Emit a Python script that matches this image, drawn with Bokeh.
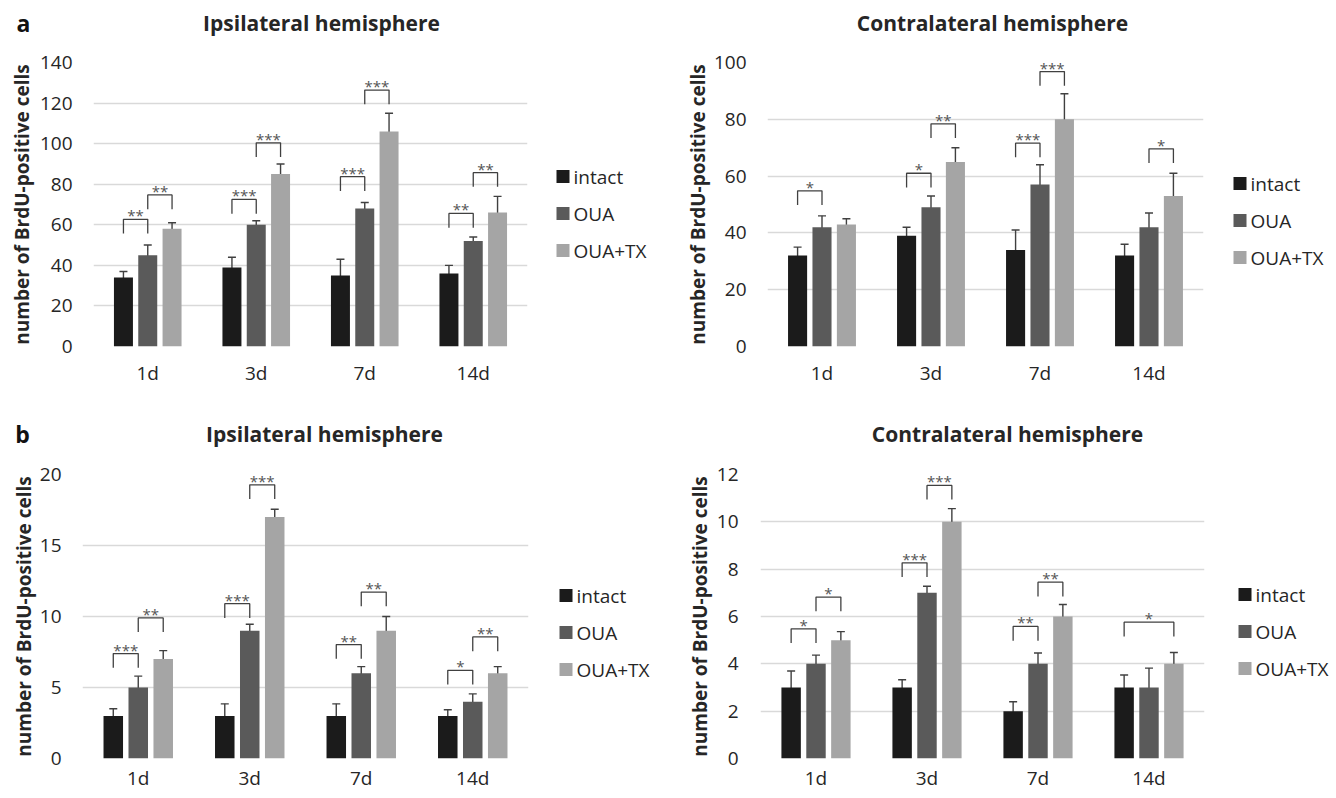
from bokeh.plotting import figure
from bokeh.models import (FactorRange, Range1d, SingleIntervalTicker, Whisker,
                          ColumnDataSource, Label, TeeHead)
from bokeh.transform import dodge
from bokeh.layouts import column, row
from bokeh.embed import file_html
from bokeh.resources import INLINE
from bokeh.core.properties import value

# ---------------- data ----------------
days = ["1d", "3d", "7d", "14d"]
groups = ["intact", "OUA", "OUA+TX"]

# (a) Ipsilateral hemisphere
a_ipsi_intact = [34, 39, 35, 36]
a_ipsi_intact_err = [3, 5, 8, 4]
a_ipsi_oua = [45, 60, 68, 52]
a_ipsi_oua_err = [5, 2, 3, 2]
a_ipsi_tx = [58, 85, 106, 66]
a_ipsi_tx_err = [3, 5, 9, 8]
a_ipsi_brackets = [("1d", 0, 1, 62.7, "**"), ("1d", 1, 2, 74.7, "**"),
                   ("3d", 0, 1, 72.5, "***"), ("3d", 1, 2, 100.4, "***"),
                   ("7d", 0, 1, 83.7, "***"), ("7d", 1, 2, 126.4, "***"),
                   ("14d", 0, 1, 65.6, "**"), ("14d", 1, 2, 85.7, "**")]

# (a) Contralateral hemisphere
a_contra_intact = [32, 39, 34, 32]
a_contra_intact_err = [3, 3, 7, 4]
a_contra_oua = [42, 49, 57, 42]
a_contra_oua_err = [4, 4, 7, 5]
a_contra_tx = [43, 65, 80, 53]
a_contra_tx_err = [2, 5, 9, 8]
a_contra_brackets = [("1d", 0, 1, 54.8, "*"),
                     ("3d", 0, 1, 61.0, "*"), ("3d", 1, 2, 78.4, "**"),
                     ("7d", 0, 1, 71.6, "***"), ("7d", 1, 2, 96.8, "***"),
                     ("14d", 1, 2, 69.6, "*")]

# (b) Ipsilateral hemisphere
b_ipsi_intact = [3, 3, 3, 3]
b_ipsi_intact_err = [0.5, 0.85, 0.85, 0.43]
b_ipsi_oua = [5, 9, 6, 4]
b_ipsi_oua_err = [0.8, 0.45, 0.47, 0.55]
b_ipsi_tx = [7, 17, 9, 6]
b_ipsi_tx_err = [0.6, 0.55, 1.0, 0.47]
b_ipsi_brackets = [("1d", 0, 1, 7.39, "***"), ("1d", 1, 2, 9.9, "**"),
                   ("3d", 0, 1, 10.9, "***"), ("3d", 1, 2, 19.27, "***"),
                   ("7d", 0, 1, 8.02, "**"), ("7d", 1, 2, 11.72, "**"),
                   ("14d", 0, 1, 6.21, "*"), ("14d", 1, 2, 8.56, "**")]

# (b) Contralateral hemisphere
b_contra_intact = [3, 3, 2, 3]
b_contra_intact_err = [0.7, 0.33, 0.4, 0.53]
b_contra_oua = [4, 7, 4, 3]
b_contra_oua_err = [0.37, 0.28, 0.46, 0.82]
b_contra_tx = [5, 10, 6, 4]
b_contra_tx_err = [0.36, 0.56, 0.51, 0.48]
b_contra_brackets = [("1d", 0, 1, 5.48, "*"), ("1d", 1, 2, 6.82, "*"),
                     ("3d", 0, 1, 8.27, "***"), ("3d", 1, 2, 11.54, "***"),
                     ("7d", 0, 1, 5.58, "**"), ("7d", 1, 2, 7.45, "**"),
                     ("14d", 0, 2, 5.76, "*")]

titles = ["Ipsilateral hemisphere", "Contralateral hemisphere"]
letters = ["a", "b"]
y_label = "number of BrdU-positive cells"

# ---------------- style ----------------
COLORS = ["#1b1b1b", "#5a5a5a", "#a5a5a5"]
OFFS = [-0.224, 0.0, 0.224]
BAR_W = 0.175
FONT = "Open Sans"
TXT = "#262626"
ERR = "#404040"


def blank(width, height, bt=0, bb=0):
    # frame rows [bt, height-bb] map 1:1 to screen rows of the canvas
    f = figure(width=width, height=height, x_range=Range1d(0, width),
               y_range=Range1d(height - bb, bt), x_axis_type=None,
               y_axis_type=None, output_backend="svg",
               toolbar_location=None, tools="", min_border_left=0,
               min_border_right=0, min_border_top=bt, min_border_bottom=bb)
    f.outline_line_color = None
    f.grid.visible = False
    return f


def make_panel(ymax, yint, series, errs, brackets,
               bl, frame_w, br, bt, frame_h, bb,
               tick_standoff, ylab_standoff, xlab_standoff):
    p = figure(x_range=FactorRange(*days), y_range=Range1d(0, ymax),
               width=bl + frame_w + br, height=bt + frame_h + bb,
               output_backend="svg", toolbar_location=None, tools="",
               min_border_left=bl, min_border_right=br,
               min_border_top=bt, min_border_bottom=bb)
    p.outline_line_color = None
    p.xgrid.grid_line_color = None
    p.ygrid.grid_line_color = "#d9d9d9"
    p.ygrid.grid_line_width = 1.6
    p.yaxis.ticker = SingleIntervalTicker(interval=yint, num_minor_ticks=0)
    for ax in (p.xaxis[0], p.yaxis[0]):
        ax.axis_line_color = None
        ax.major_tick_line_color = None
        ax.minor_tick_line_color = None
        ax.major_tick_out = 0
        ax.major_label_text_font = FONT
        ax.major_label_text_font_size = "19px"
        ax.major_label_text_color = TXT
    p.xaxis.major_label_standoff = xlab_standoff
    p.yaxis.major_label_standoff = tick_standoff
    p.yaxis.axis_label = y_label
    p.yaxis.axis_label_text_font = FONT
    p.yaxis.axis_label_text_font_style = "bold"
    p.yaxis.axis_label_text_font_size = "19px"
    p.yaxis.axis_label_text_color = TXT
    p.yaxis.axis_label_standoff = ylab_standoff

    for g in range(3):
        vals = series[g]
        e = errs[g]
        src = ColumnDataSource(dict(
            day=days, val=vals,
            upper=[v + d for v, d in zip(vals, e)],
            lower=[v - d for v, d in zip(vals, e)]))
        p.vbar(x=dodge("day", OFFS[g], range=p.x_range), top="val",
               width=BAR_W, source=src, fill_color=COLORS[g], line_color=None)
        w = Whisker(base=dodge("day", OFFS[g], range=p.x_range),
                    upper="upper", lower="lower", source=src,
                    line_color=ERR, line_width=1.4,
                    upper_head=TeeHead(size=8, line_color=ERR, line_width=1.4),
                    lower_head=TeeHead(size=8, line_color=ERR, line_width=1.4))
        p.add_layout(w)

    # significance brackets
    leg = ymax * 0.05
    xs, ys, tx, ty, tt = [], [], [], [], []
    for day, g0, g1, top, lab in brackets:
        i = days.index(day)
        x0 = i + 0.5 + OFFS[g0]
        x1 = i + 0.5 + OFFS[g1]
        xs.append([x0, x0, x1, x1])
        ys.append([top - leg, top, top, top - leg])
        tx.append((x0 + x1) / 2)
        ty.append(top)
        tt.append(lab)
    p.multi_line(xs=xs, ys=ys, line_color=ERR, line_width=1.3)
    p.text(x=tx, y=ty, text=tt, text_align="center",
           text_baseline="alphabetic", text_font=value(FONT),
           text_font_size="15px", text_color="#555555", y_offset=-4)
    return p


def make_legend(width, height, bt, bb, sq_left, first_center, step=37, sq=13):
    lf = blank(width, height, bt, bb)
    ys = [first_center + k * step for k in range(len(groups))]
    lf.rect(x=[sq_left + sq / 2] * len(groups), y=ys, width=sq, height=sq,
            fill_color=COLORS, line_color=None)
    lf.text(x=[sq_left + sq + 4] * len(groups), y=ys, text=groups,
            text_align="left", text_baseline="middle", text_font=value(FONT),
            text_font_size="19px", text_color=TXT)
    return lf


def make_header(height, letter, letter_x, title_xs, text_y):
    h = blank(1336, height)
    h.add_layout(Label(x=letter_x, y=text_y, text=letter, text_align="center",
                       text_baseline="middle", text_font=FONT,
                       text_font_style="bold", text_font_size="23px",
                       text_color="#111111"))
    for t, x in zip(titles, title_xs):
        h.add_layout(Label(x=x, y=text_y, text=t, text_align="center",
                           text_baseline="middle", text_font=FONT,
                           text_font_style="bold", text_font_size="21px",
                           text_color=TXT))
    return h


# row a: page y 40..398 (frames 62..346) ; row b: page y 450..798 (frames 474..758)
R1_BT, R1_FH, R1_BB = 22, 284, 52
R2_BT, R2_FH, R2_BB = 24, 284, 40

h1 = make_header(40, letters[0], 23, [321, 992], 22)
p1 = make_panel(140, 20,
                [a_ipsi_intact, a_ipsi_oua, a_ipsi_tx],
                [a_ipsi_intact_err, a_ipsi_oua_err, a_ipsi_tx_err],
                a_ipsi_brackets,
                93, 434, 13, R1_BT, R1_FH, R1_BB, 21, 2, 13)
l1 = make_legend(128, 358, R1_BT, R1_BB, 16, 176 - 40)
p2 = make_panel(100, 20,
                [a_contra_intact, a_contra_oua, a_contra_tx],
                [a_contra_intact_err, a_contra_oua_err, a_contra_tx_err],
                a_contra_brackets,
                99, 436, 12, R1_BT, R1_FH, R1_BB, 21, 0, 13)
l2 = make_legend(121, 358, R1_BT, R1_BB, 18, 183 - 40)
h2 = make_header(52, letters[1], 22, [324, 1007], 35)
p3 = make_panel(20, 5,
                [b_ipsi_intact, b_ipsi_oua, b_ipsi_tx],
                [b_ipsi_intact_err, b_ipsi_oua_err, b_ipsi_tx_err],
                b_ipsi_brackets,
                82, 446, 12, R2_BT, R2_FH, R2_BB, 21, 0, 6)
l3 = make_legend(128, 348, R2_BT, R2_BB, 19, 595 - 450)
p4 = make_panel(12, 2,
                [b_contra_intact, b_contra_oua, b_contra_tx],
                [b_contra_intact_err, b_contra_oua_err, b_contra_tx_err],
                b_contra_brackets,
                92, 444, 11, R2_BT, R2_FH, R2_BB, 22, 1, 6)
l4 = make_legend(121, 348, R2_BT, R2_BB, 23, 594 - 450)

layout = column(h1, row(p1, l1, p2, l2), h2, row(p3, l3, p4, l4))
open("out.html", "w").write(file_html(layout, INLINE))
